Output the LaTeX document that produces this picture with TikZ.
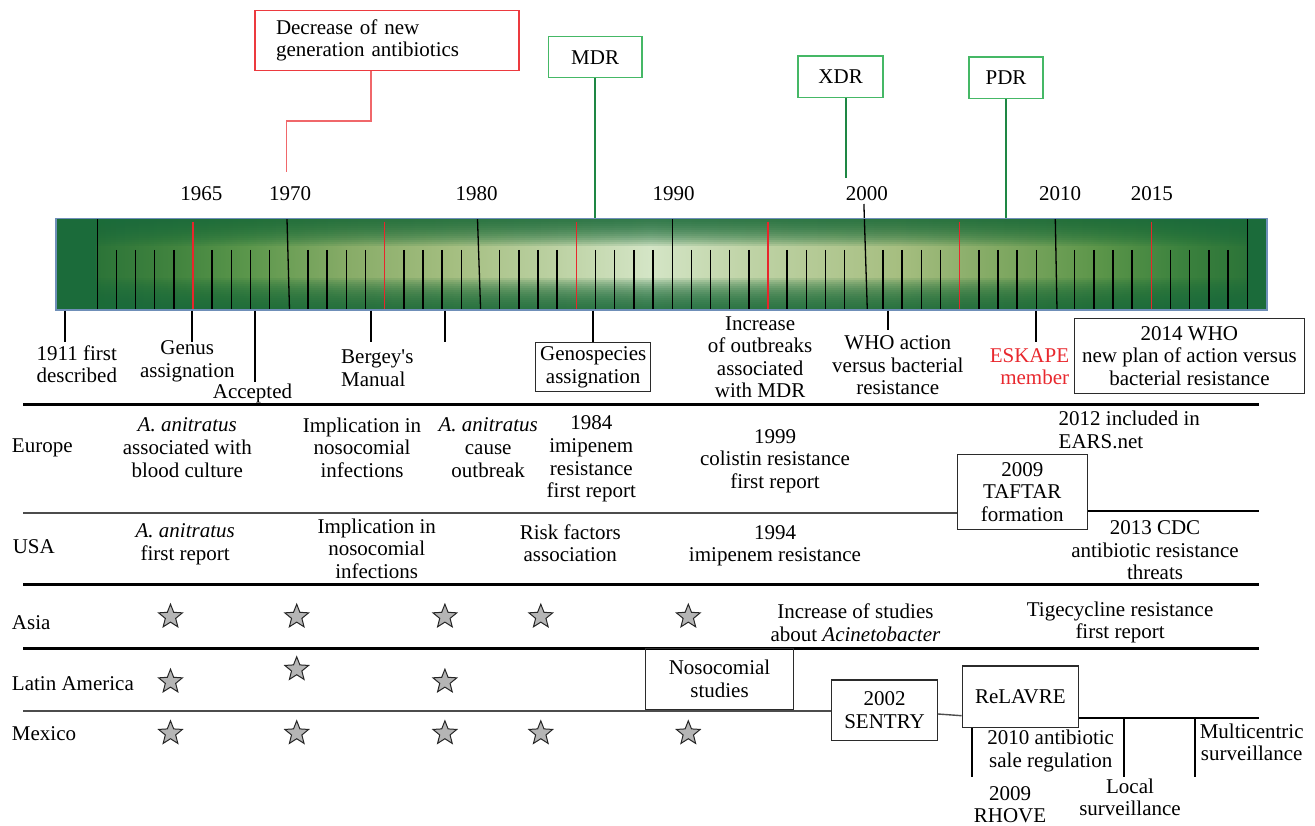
\documentclass[tikz,border=0pt]{standalone}
\usepackage{fontspec}
\setmainfont{Liberation Serif}
\usetikzlibrary{shapes.geometric}
\definecolor{dg}{HTML}{1B6B3A}
\definecolor{c1}{HTML}{2C7438}
\definecolor{c2}{HTML}{43853F}
\definecolor{c3}{HTML}{5C974C}
\definecolor{c4}{HTML}{88AC68}
\definecolor{c5}{HTML}{A4BE80}
\definecolor{c6}{HTML}{BDD2A4}
\definecolor{c7}{HTML}{D4E5C6}
\definecolor{c8}{HTML}{BFD3A6}
\definecolor{c9}{HTML}{A6BE80}
\definecolor{c10}{HTML}{80A862}
\definecolor{c11}{HTML}{5B9549}
\definecolor{c12}{HTML}{3C823E}
\definecolor{c13}{HTML}{2C7438}
\definecolor{barblue}{HTML}{6F8FB8}
\definecolor{tickred}{HTML}{E8262B}
\definecolor{boxred}{HTML}{EC3A3F}
\definecolor{linered}{HTML}{F0676A}
\definecolor{boxgreen}{HTML}{45B866}
\definecolor{linegreen}{HTML}{1E8744}
\definecolor{eskred}{HTML}{E8282E}
\definecolor{stargray}{HTML}{B5B5B5}
\definecolor{boxgray}{HTML}{2B2B2B}
\pgfdeclarehorizontalshading{barh}{100bp}{color(0bp)=(dg); color(25bp)=(dg); color(26.6bp)=(dg);
 color(26.75bp)=(c1); color(30.1bp)=(c2); color(33bp)=(c3); color(37.1bp)=(c4); color(41.3bp)=(c5);
 color(45.8bp)=(c6); color(49.5bp)=(c7); color(53.6bp)=(c8); color(59.8bp)=(c9); color(64bp)=(c10);
 color(68.1bp)=(c11); color(71.4bp)=(c12); color(74.1bp)=(c13); color(74.2bp)=(dg); color(100bp)=(dg)}
\begin{document}
\begin{tikzpicture}[x=1pt,y=-1pt,
  every node/.style={font=\fontsize{21}{22.6}\selectfont},
  txt/.style={align=center, inner sep=0pt},
  ltxt/.style={align=left, inner sep=0pt},
  bbox/.style={draw=boxgray, line width=1.3pt, align=center, inner sep=0pt},
  gbox/.style={draw=boxgreen, line width=1.5pt, align=center, inner sep=0pt},
  redline/.style={draw=linered, line width=1.5pt},
  greenline/.style={draw=linegreen, line width=2pt},
  sepline/.style={line width=2.6pt},
  sepline2/.style={line width=2.2pt},
  thinsep/.style={draw=black!70, line width=1.4pt},
  tk/.style={line width=2pt},
  maj/.style={line width=1.3pt},
  mn/.style={line width=1.6pt},
  rt/.style={draw=tickred, line width=1.6pt},
  strs/.style={star, star points=5, star point ratio=2.3, draw=black!85, fill=stargray, line width=1pt, minimum size=25pt, inner sep=0pt}]
\useasboundingbox (0,0) rectangle (1315,826);

% ---- timeline bar ----
\shade[shading=barh] (56,218.3) rectangle (1267,310);
\foreach \i in {1,...,14} { \fill[dg, opacity=0.13] (56,218.3) rectangle (1267,{218.3+2*\i}); }
\foreach \i in {1,...,16} { \fill[dg, opacity=0.12] (56,310) rectangle (1267,{310-2*\i}); }
\foreach \k in {0,...,11} { \foreach \j in {1,...,4} { \draw[mn] ({97.2+95.83*\k+19.166*\j},250) -- ({97.2+95.83*\k+19.166*\j},310); } }
\foreach \k in {1,3,...,11} { \draw[rt] ({97.2+95.83*\k},221.7) -- ({97.2+95.83*\k},310); }
\draw[maj] (97.2,219) -- (97.2,310);
\draw[maj] (287,219) -- (289.5,310);
\draw[maj] (477.5,219) -- (480.6,310);
\draw[maj] (672.2,219) -- (672.2,310);
\draw[maj] (863.9,204) -- (867.3,310);
\draw[maj] (1055.3,219) -- (1057,310);
\draw[maj] (1247.2,219) -- (1247.2,310);
\node[draw=barblue, line width=1.2pt, minimum width=1211pt, minimum height=91.7pt, inner sep=0pt] (bar) at (661.5,264.15) {};

% ---- years ----
\node[txt] (y1965) at (201.4,193.3) {1965};
\node[txt] (y1970) at (290,193.3) {1970};
\node[txt] (y1980) at (476.6,193.3) {1980};
\node[txt] (y1990) at (673.7,193.3) {1990};
\node[txt] (y2000) at (866.9,193.3) {2000};
\node[txt] (y2010) at (1060,193.3) {2010};
\node[txt] (y2015) at (1151.9,193.3) {2015};

% ---- top boxes ----
\node[draw=boxred, line width=1.5pt, minimum width=264pt, minimum height=59.6pt, text width=222pt, align=left, inner xsep=21pt, inner ysep=0pt] (dec) at (387,40.5) {Decrease of new\\generation antibiotics};
\node[gbox, minimum width=93.4pt, minimum height=41pt] (mdr) at (595.1,57.2) {MDR};
\node[gbox, minimum width=84.8pt, minimum height=41.3pt] (xdr) at (840.6,76.7) {XDR};
\node[gbox, minimum width=74pt, minimum height=41.3pt] (pdr) at (1006,77.7) {PDR};
\coordinate (d1) at (371,121);
\coordinate (d2) at (286.6,171.7);
\draw[redline] (dec.south -| d1) -- (d1) -| (d2);
\draw[greenline] (mdr.south) -- (mdr.south |- bar.north);
\coordinate (x1) at (845.7,178.3);
\draw[greenline] (xdr.south -| x1) -- (x1);
\draw[greenline] (pdr.south) -- (pdr.south |- bar.north);

% ---- labels below bar ----
\node[txt] (l1911) at (76.8,364.2) {1911 first\\described};
\node[txt] (genus) at (187.3,361.3) {Genus\\assignation};
\node[txt] (accepted) at (252.5,393.3) {Accepted};
\node[ltxt, anchor=west] (bergey) at (341,368.3) {Bergey\textquotesingle s\\Manual};
\node[bbox, minimum width=115pt, minimum height=49pt] (geno) at (593.2,367.2) {Genospecies\\assignation};
\node[txt] (incr) at (760.1,357.2) {Increase\\of outbreaks\\associated\\with MDR};
\node[txt] (whoact) at (897.8,365.2) {WHO action\\versus bacterial\\resistance};
\node[txt, align=right, anchor=east, text=eskred] (eskape) at (1069.3,366.7) {ESKAPE\\member};
\node[bbox, minimum width=230pt, minimum height=75pt] (who14) at (1189.4,355.8) {2014 WHO\\new plan of action versus\\bacterial resistance};
\coordinate (b1) at (64.8,341.7);
\coordinate (b2) at (192.3,341.7);
\coordinate (b3) at (254.6,381.7);
\coordinate (b4) at (371.2,341.7);
\coordinate (b5) at (444.9,341.7);
\coordinate (b6) at (888.4,330);
\coordinate (b7) at (1035.8,341.7);
\draw[tk] (b1 |- bar.south) -- (b1);
\draw[tk] (b2 |- bar.south) -- (b2);
\draw[tk] (b3 |- bar.south) -- (b3);
\draw[tk] (b4 |- bar.south) -- (b4);
\draw[tk] (b5 |- bar.south) -- (b5);
\draw[tk] (geno.north |- bar.south) -- (geno.north);
\draw[tk] (b6 |- bar.south) -- (b6);
\draw[tk] (b7 |- bar.south) -- (b7);

% ---- separators ----
\coordinate (L1) at (23,404.5); \coordinate (R1) at (1258.5,404.5);
\draw[sepline] (L1) -- (R1);
\node[bbox, minimum width=130pt, minimum height=75pt] (taftar) at (1022.3,491.8) {2009\\TAFTAR\\formation};
\coordinate (L2) at (23,513); \coordinate (R2) at (1258.5,511);
\draw[thinsep] (L2) -- (L2 -| taftar.west);
\draw[sepline2] (R2 -| taftar.east) -- (R2);
\coordinate (L3) at (23,584.5); \coordinate (R3) at (1258.5,584.5);
\draw[sepline] (L3) -- (R3);
\coordinate (L4) at (23,648.5); \coordinate (R4) at (1258.5,648.5);
\draw[sepline] (L4) -- (R4);

% ---- Europe ----
\node[ltxt, anchor=west] (europe) at (11.8,448) {Europe};
\node[txt] (e1) at (187.3,447.7) {\textit{A. anitratus}\\associated with\\blood culture};
\node[txt] (e2) at (362,447.7) {Implication in\\nosocomial\\infections};
\node[txt] (e3) at (488.2,447.7) {\textit{A. anitratus}\\cause\\outbreak};
\node[txt] (e4) at (591.3,459) {1984\\imipenem\\resistance\\first report};
\node[txt] (e5) at (775,461) {1999\\colistin resistance\\first report};
\node[ltxt, anchor=west] (e6) at (1058.5,430) {2012 included in\\EARS.net};

% ---- USA ----
\node[ltxt, anchor=west] (usa) at (12.6,546.7) {USA};
\node[txt] (u1) at (185.2,544.2) {\textit{A. anitratus}\\first report};
\node[txt] (u2) at (376.7,548.8) {Implication in\\nosocomial\\infections};
\node[txt] (u3) at (570.3,543.3) {Risk factors\\association};
\node[txt] (u4) at (775,545.8) {1994\\imipenem resistance};
\node[txt] (u5) at (1155,550.5) {2013 CDC\\antibiotic resistance\\threats};

% ---- Asia ----
\node[ltxt, anchor=west] (asia) at (11.8,622.7) {Asia};
\node[strs] (as1) at (170.5,616.7) {};
\node[strs] (as2) at (296.7,616.7) {};
\node[strs] (as3) at (444.9,616.7) {};
\node[strs] (as4) at (540.8,616.7) {};
\node[strs] (as5) at (688.3,616.7) {};
\node[txt] (a1) at (855.4,622.5) {Increase of studies\\about \textit{Acinetobacter}};
\node[txt] (a2) at (1120.1,622.5) {Tigecycline resistance\\first report};

% ---- Latin America ----
\node[ltxt, anchor=west] (latam) at (11.8,683.3) {Latin America};
\node[strs] (la1) at (170.5,681.7) {};
\node[strs] (la2) at (296.7,669.3) {};
\node[strs] (la3) at (444.9,681.7) {};
\node[bbox, minimum width=147.6pt, minimum height=61pt] (noso) at (719.5,679) {Nosocomial\\studies};

% ---- Mexico ----
\node[ltxt, anchor=west] (mexico) at (11.8,733.3) {Mexico};
\node[strs] (mx1) at (170.5,733.3) {};
\node[strs] (mx2) at (296.7,733.3) {};
\node[strs] (mx3) at (444.9,733.3) {};
\node[strs] (mx4) at (540.8,733.3) {};
\node[strs] (mx5) at (688.3,733.3) {};
\node[bbox, minimum width=105.6pt, minimum height=60.7pt] (sentry) at (884.5,710.3) {2002\\SENTRY};
\node[bbox, minimum width=116pt, minimum height=61.3pt] (relavre) at (1020.3,696.7) {ReLAVRE};
\coordinate (L5) at (23,711);
\draw[thinsep] (L5) -- (L5 -| sentry.west);
\coordinate (s1) at (0,714); \coordinate (s2) at (0,715.7);
\draw[thinsep] (sentry.east |- s1) -- (relavre.west |- s2);
\coordinate (R6) at (1258.5,717.7);
\draw[sepline2] (R6 -| relavre.east) -- (R6);
\coordinate (v1) at (971.7,776.7);
\coordinate (v2) at (1123.7,776.7);
\coordinate (v3) at (1194.7,776.7);
\draw[tk] (v1 |- relavre.south) -- (v1);
\draw[tk] (v2 |- R6) -- (v2);
\draw[tk] (v3 |- R6) -- (v3);
\node[txt] (m1) at (1050.7,751) {2010 antibiotic\\sale regulation};
\node[txt] (m2) at (1010,804.5) {2009\\RHOVE};
\node[txt] (m3) at (1130,797.3) {Local\\surveillance};
\node[txt] (m4) at (1251.7,742.5) {Multicentric\\surveillance};
\end{tikzpicture}
\end{document}
